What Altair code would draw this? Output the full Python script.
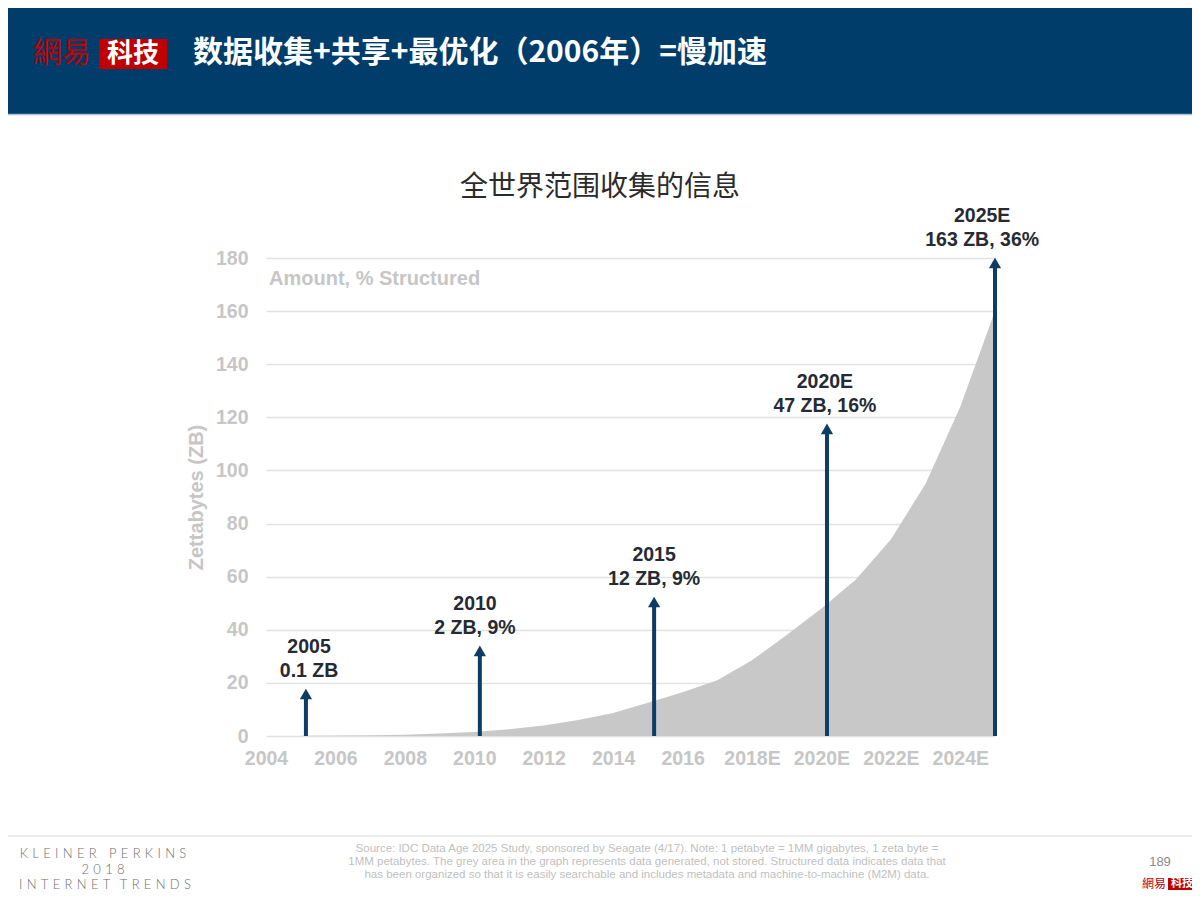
import altair as alt
import pandas as pd

# ---------------- data ----------------
years = list(range(2005, 2026))
amount_zb = [0.1, 0.2, 0.3, 0.5, 0.9, 1.5, 2.5, 4.0, 6.0, 8.7, 12.5,
             16.5, 21.0, 28.5, 38.0, 48.0, 59.0, 74.0, 95.0, 124.0, 160.0]

arrow_x = [2005.15, 2010.16, 2015.18, 2020.16, 2025.0]
arrow_top = [18.1, 34.3, 52.7, 117.9, 180.4]
label_x = [2005.24, 2010.02, 2015.18, 2020.10, 2024.63]
label_line1 = ["2005", "2010", "2015", "2020E", "2025E"]
label_line2 = ["0.1 ZB", "2 ZB, 9%", "12 ZB, 9%", "47 ZB, 16%", "163 ZB, 36%"]

x_tick_values = [2004, 2006, 2008, 2010, 2012, 2014, 2016, 2018, 2020, 2022, 2024]
x_tick_labels = ["2004", "2006", "2008", "2010", "2012", "2014", "2016",
                 "2018E", "2020E", "2022E", "2024E"]
y_tick_values = [0, 20, 40, 60, 80, 100, 120, 140, 160, 180]

header_title = "数据收集+共享+最优化（2006年）=慢加速"
chart_title = "全世界范围收集的信息"
subtitle = "Amount, % Structured"
y_title = "Zettabytes (ZB)"
source_lines = [
    "Source: IDC Data Age 2025 Study, sponsored by Seagate (4/17).  Note: 1 petabyte = 1MM gigabytes, 1 zeta byte =",
    "1MM petabytes. The grey area in the graph represents data generated, not stored. Structured data indicates data that",
    "has been organized so that it is easily searchable and includes metadata and machine-to-machine (M2M) data.",
]
page_number = "189"

# ---------------- styling ----------------
FONT = "Liberation Sans"
CJK = "Noto Sans CJK SC"
AXIS_GRAY = "#C6C6C6"
GRID = "#E2E2E2"
AREA = "#C8C8C8"
ARROW = "#0D3C64"
TEXT_DARK = "#262A32"
HEADER = "#003D6A"
RED = "#C00000"

# plot area origin on the page (page coords) ; chart origin is at (8, 8)
OX, OY = 266, 258
PW, PH = 729, 478


def px(x):
    return x - OX


def py(y):
    return y - OY


def spaced(text, sep="\u2004", word_sep=" "):
    return (sep + word_sep + sep).join(sep.join(w) for w in text.split(" "))


one = pd.DataFrame({"k": [0]})

area_df = pd.DataFrame({"year": years, "zb": amount_zb})
arrow_df = pd.DataFrame({"year": arrow_x, "zb": arrow_top, "base": [0] * len(arrow_x)})
label_df = pd.DataFrame({"year": label_x, "zb": arrow_top,
                         "l1": label_line1, "l2": label_line2})

expr = " : ".join(f"datum.value == {v} ? '{t}'" for v, t in zip(x_tick_values, x_tick_labels)) + " : ''"

x_enc = alt.X(
    "year:Q",
    scale=alt.Scale(domain=[2004, 2025], nice=False, zero=False),
    axis=alt.Axis(values=x_tick_values, labelExpr=expr, title=None, grid=False,
                  ticks=False, tickSize=0, domain=False, labelPadding=13,
                  labelFontSize=19.5, labelColor=AXIS_GRAY, labelFont=FONT,
                  labelFontWeight="bold", labelFlush=False, labelOverlap=False),
)
y_enc = alt.Y(
    "zb:Q",
    scale=alt.Scale(domain=[0, 180], nice=False),
    axis=alt.Axis(values=y_tick_values, title=y_title, grid=True, gridColor=GRID,
                  gridWidth=1.5, ticks=False, tickSize=0, domain=False,
                  labelPadding=18, labelFontSize=19.5, labelColor=AXIS_GRAY,
                  labelFont=FONT, labelFontWeight="bold", titleFont=FONT,
                  titleFontSize=20, titleFontWeight="bold", titleColor=AXIS_GRAY,
                  titlePadding=9),
)

area = alt.Chart(area_df).mark_area(color=AREA, opacity=1).encode(x=x_enc, y=y_enc)

shafts = alt.Chart(arrow_df).mark_rule(color=ARROW, strokeWidth=4, yOffset=8).encode(
    x="year:Q", y="zb:Q", y2="base:Q")
heads = alt.Chart(arrow_df).mark_point(shape="triangle-up", filled=True, size=150,
                                       color=ARROW, opacity=1, yOffset=6).encode(
    x="year:Q", y="zb:Q")

lab1 = alt.Chart(label_df).mark_text(font=FONT, fontSize=19.5, fontWeight="bold",
                                     color=TEXT_DARK, baseline="middle", dy=-41).encode(
    x="year:Q", y="zb:Q", text="l1:N")
lab2 = alt.Chart(label_df).mark_text(font=FONT, fontSize=19.5, fontWeight="bold",
                                     color=TEXT_DARK, baseline="middle", dy=-17).encode(
    x="year:Q", y="zb:Q", text="l2:N")


def deco_text(x, y, text, **kw):
    return alt.Chart(one).mark_text(text=text, **kw).encode(
        x=alt.value(px(x)), y=alt.value(py(y)))


def deco_rect(x1, y1, x2, y2, color):
    return alt.Chart(one).mark_rect(color=color, opacity=1).encode(
        x=alt.value(px(x1)), x2=alt.value(px(x2)),
        y=alt.value(py(y1)), y2=alt.value(py(y2)))


def deco_rule(x1, y1, x2, y2, color, w):
    return alt.Chart(one).mark_rule(color=color, strokeWidth=w).encode(
        x=alt.value(px(x1)), x2=alt.value(px(x2)),
        y=alt.value(py(y1)), y2=alt.value(py(y2)))


decor = [
    deco_rect(0, 0, 1200, 114, HEADER),
    deco_rule(0, 114.5, 1200, 114.5, "#A9C0D8", 1.5),
    deco_text(33, 54, "網易", font="Noto Sans CJK TC", fontSize=29, fontWeight="normal",
              color=RED, align="left", baseline="middle"),
    deco_rect(99, 39, 167, 69, RED),
    deco_text(133, 54, "科技", font="Noto Sans CJK TC", fontSize=26, fontWeight="bold",
              color="white", align="center", baseline="middle"),
    deco_text(193, 53, header_title, font=CJK, fontSize=30, fontWeight="bold",
              color="white", align="left", baseline="middle"),
    deco_text(600, 188, chart_title, font=CJK, fontSize=28, fontWeight="normal",
              color="#2B2B2B", align="center", baseline="middle"),
    deco_text(269, 279, subtitle, font=FONT, fontSize=20, fontWeight="bold",
              color=AXIS_GRAY, align="left", baseline="middle"),
    deco_rule(0, 836, 1200, 836, "#EDEDED", 2),
    deco_text(103, 854, spaced("KLEINER PERKINS"),
              font="Lato", fontSize=13, fontWeight=300, color="#6E6E6E",
              align="center", baseline="middle"),
    deco_text(103, 870, spaced("2018"), font="Lato", fontSize=13, fontWeight=300,
              color="#6E6E6E", align="center", baseline="middle"),
    deco_text(105, 885, spaced("INTERNET TRENDS", word_sep="\u200a"),
              font="Lato", fontSize=13, fontWeight=300, color="#6E6E6E",
              align="center", baseline="middle"),
    deco_text(1160, 862, page_number, font=FONT, fontSize=13, color="#8A8A8A",
              align="center", baseline="middle"),
    deco_text(1142, 884, "網易", font="Noto Sans CJK TC", fontSize=12, color=RED,
              align="left", baseline="middle"),
    deco_rect(1168, 878, 1196, 890, RED),
    deco_text(1182, 884, "科技", font="Noto Sans CJK TC", fontSize=11, fontWeight="bold",
              color="white", align="center", baseline="middle"),
]
for i, line in enumerate(source_lines):
    decor.append(deco_text(647, 849 + 13 * i, line, font=FONT, fontSize=11.5,
                           color="#BFBFBF", align="center", baseline="middle"))

chart = alt.layer(area, shafts, heads, lab1, lab2, *decor).properties(
    width=PW,
    height=PH,
    padding={"left": OX - 8, "top": OY - 8, "right": 1184 - (OX - 8) - PW,
             "bottom": 884 - (OY - 8) - PH},
    autosize=alt.AutoSizeParams(type="none"),
    background="white",
).configure_view(stroke=None)

chart.save("out.html", embed_options={"renderer": "svg", "actions": False})
